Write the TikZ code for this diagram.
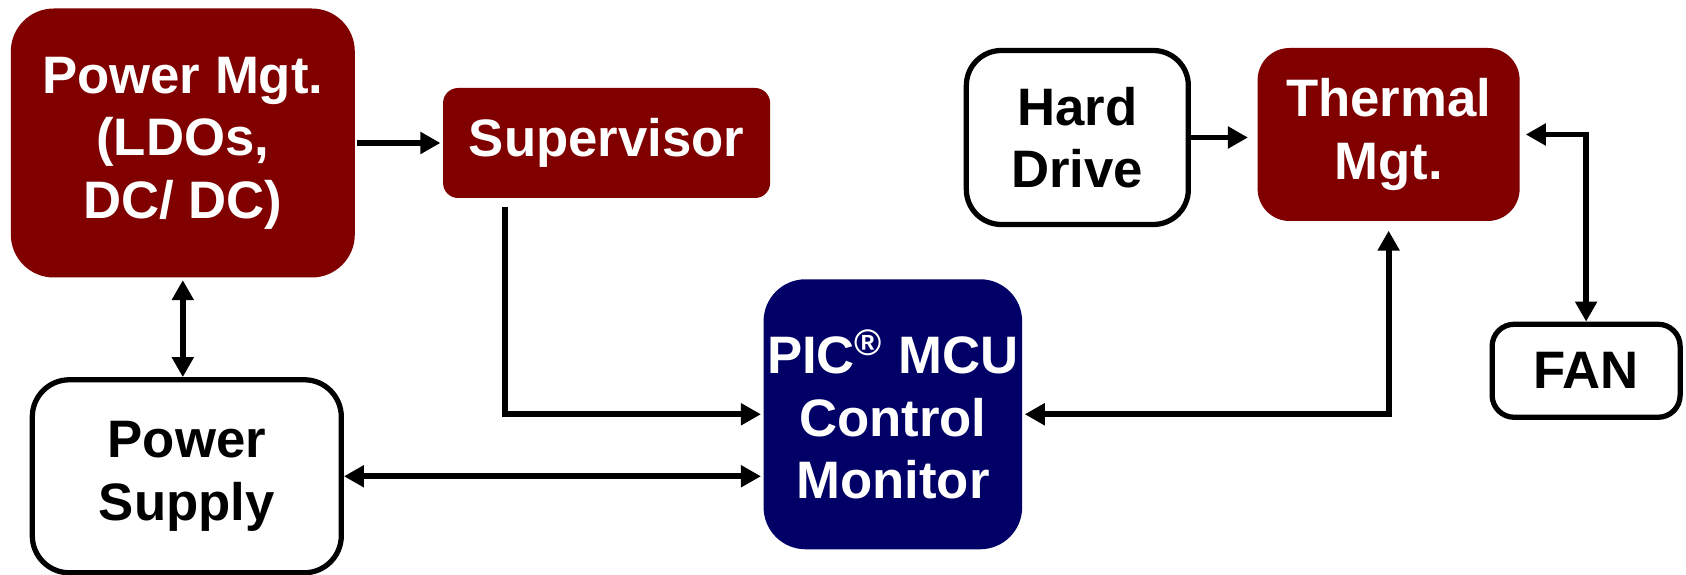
\documentclass[tikz,border=0pt]{standalone}
\usepackage{fontspec}
\setmainfont{Liberation Sans}
\usetikzlibrary{positioning,arrows.meta}
\definecolor{mgtred}{HTML}{800000}
\definecolor{picblue}{HTML}{000066}
\tikzset{
  blk/.style={rectangle, align=center, inner sep=1pt, line width=1.5pt,
    font=\fontsize{15}{17.8}\selectfont\bfseries},
  redblk/.style={blk, fill=mgtred, text=white},
  whtblk/.style={blk, draw, fill=white, text=black},
}
\begin{document}
\begin{tikzpicture}[>={Triangle[length=2mm,width=2.1mm]}, line width=1.7pt]
    \useasboundingbox (0,0) rectangle (16.86,-5.75);
    \node[redblk, minimum width=3.44cm, minimum height=2.69cm, rounded corners=0.43cm] (PM) at (1.828,-1.43) {Power Mgt.\\(LDOs,\\DC/ DC)};
    \node[redblk, minimum width=3.27cm, minimum height=1.10cm, rounded corners=0.15cm, right=0.83cm of PM] (SUP) {Supervisor};
    \node[whtblk, minimum width=3.09cm, minimum height=1.93cm, rounded corners=0.37cm, below=0.97cm of PM, xshift=0.04cm] (PS) {Power\\Supply};
    \node[redblk, fill=picblue, minimum width=2.56cm, minimum height=2.70cm, rounded corners=0.42cm, right=4.17cm of PS, yshift=0.62cm] (PIC) {PIC\textsuperscript{\textregistered} MCU\\Control\\Monitor};
    \node[whtblk, minimum width=2.22cm, minimum height=1.74cm, rounded corners=0.35cm, right=1.91cm of SUP, yshift=0.055cm] (HD) {Hard\\Drive};
    \node[redblk, minimum width=2.62cm, minimum height=1.73cm, rounded corners=0.32cm, right=0.64cm of HD, yshift=0.03cm] (TM) {Thermal\\Mgt.};
    \node[whtblk, minimum width=1.88cm, minimum height=0.93cm, rounded corners=0.22cm, below=0.98cm of TM, xshift=1.975cm] (FAN) {FAN};

    \draw[->] (PM) -- (SUP);
    \draw[<->] (PM.south) -- (PM.south |- PS.north);
    \draw[->] ([xshift=0.645cm,yshift=-0.06cm]SUP.south west) |- (PIC.west);
    \draw[<->] (PS.east) -- (PS.east -| PIC.west);
    \draw[<->, shorten >=2pt] (PIC.east) -| (TM.south);
    \draw[->, shorten >=2pt] (HD.east) -- (HD.east -| TM.west);
    \draw[<->, shorten <=1pt] (TM.east) -| (FAN.north);
\end{tikzpicture}
\end{document}
